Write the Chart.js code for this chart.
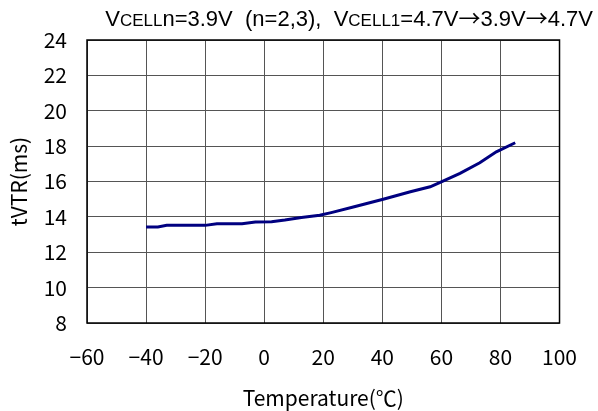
<!DOCTYPE html>
<html>
<head>
<meta charset="utf-8">
<script src="https://cdn.jsdelivr.net/npm/chart.js@4/dist/chart.umd.min.js"></script>
<style>
  body { margin: 0; background: #fff; }
  #wrap { position: relative; width: 598px; height: 411px; }
  #title {
    position: absolute; left: 0; right: 5px; top: 0px; text-align: right;
    font-family: "Liberation Sans", Arial, sans-serif; font-size: 22px; color: #000;
    white-space: pre;
  }
  #title small { font-size: 17px; }
  #title .ar { font-family: "Noto Sans CJK JP", sans-serif; font-size: 22px; }
</style>
</head>
<body>
<div id="wrap">
  <canvas id="chart" width="598" height="411"></canvas>
  <div id="title">V<small>CELL</small>n=3.9V  (n=2,3),  V<small>CELL1</small>=4.7V<span class="ar">→</span>3.9V<span class="ar">→</span>4.7V</div>
</div>
<script>
// temperature (°C) vs tVTR (ms)
const temps = [-40, -36, -33, -20, -16, -7.5, -3, 2.5, 7, 12.6, 18.8, 22.7, 30.5, 40.6, 49.5, 56.2, 59.6, 66.3, 73, 78.6, 85];
const tvtr  = [13.43, 13.43, 13.52, 13.52, 13.61, 13.61, 13.71, 13.72, 13.82, 13.97, 14.09, 14.24, 14.57, 15.01, 15.42, 15.70, 15.95, 16.46, 17.06, 17.68, 18.19];

const tickFont = { family: '"Noto Sans CJK JP", "Liberation Sans", sans-serif', size: 21 };
const minus = (v) => String(v).replace('-', '\u2212');

// marco preto em volta da área do gráfico
const frame = {
  id: 'frame',
  afterDraw(chart) {
    const { ctx, chartArea: a } = chart;
    ctx.save();
    ctx.strokeStyle = '#000';
    ctx.lineWidth = 1.5;
    ctx.strokeRect(a.left, a.top, a.right - a.left, a.bottom - a.top);
    ctx.restore();
  }
};

new Chart(document.getElementById('chart'), {
  type: 'line',
  data: {
    datasets: [{
      data: temps.map((t, i) => ({ x: t, y: tvtr[i] })),
      borderColor: '#000080',
      borderWidth: 3,
      pointRadius: 0,
      tension: 0,
      fill: false
    }]
  },
  options: {
    responsive: false,
    animation: false,
    layout: { padding: { left: 0, right: 32, top: 40, bottom: 0 } },
    plugins: { legend: { display: false }, tooltip: { enabled: false } },
    scales: {
      x: {
        type: 'linear', min: -60, max: 100,
        ticks: { stepSize: 20, color: '#000', font: tickFont, padding: 21, callback: minus },
        grid: { color: '#555', lineWidth: 1, drawTicks: false },
        border: { display: false },
        title: { display: true, text: 'Temperature(℃)', color: '#000', font: tickFont, padding: { top: 2, bottom: 0 } },
        afterFit: (s) => { s.height = 88; }
      },
      y: {
        min: 8, max: 24,
        ticks: { stepSize: 2, color: '#000', font: tickFont, padding: 20 },
        grid: { color: '#555', lineWidth: 1, drawTicks: false },
        border: { display: false },
        title: { display: true, text: 'tVTR(ms)', color: '#000', font: tickFont, padding: { top: 6, bottom: 0 } },
        afterFit: (s) => { s.width = 87; }
      }
    }
  },
  plugins: [frame]
});
</script>
</body>
</html>
